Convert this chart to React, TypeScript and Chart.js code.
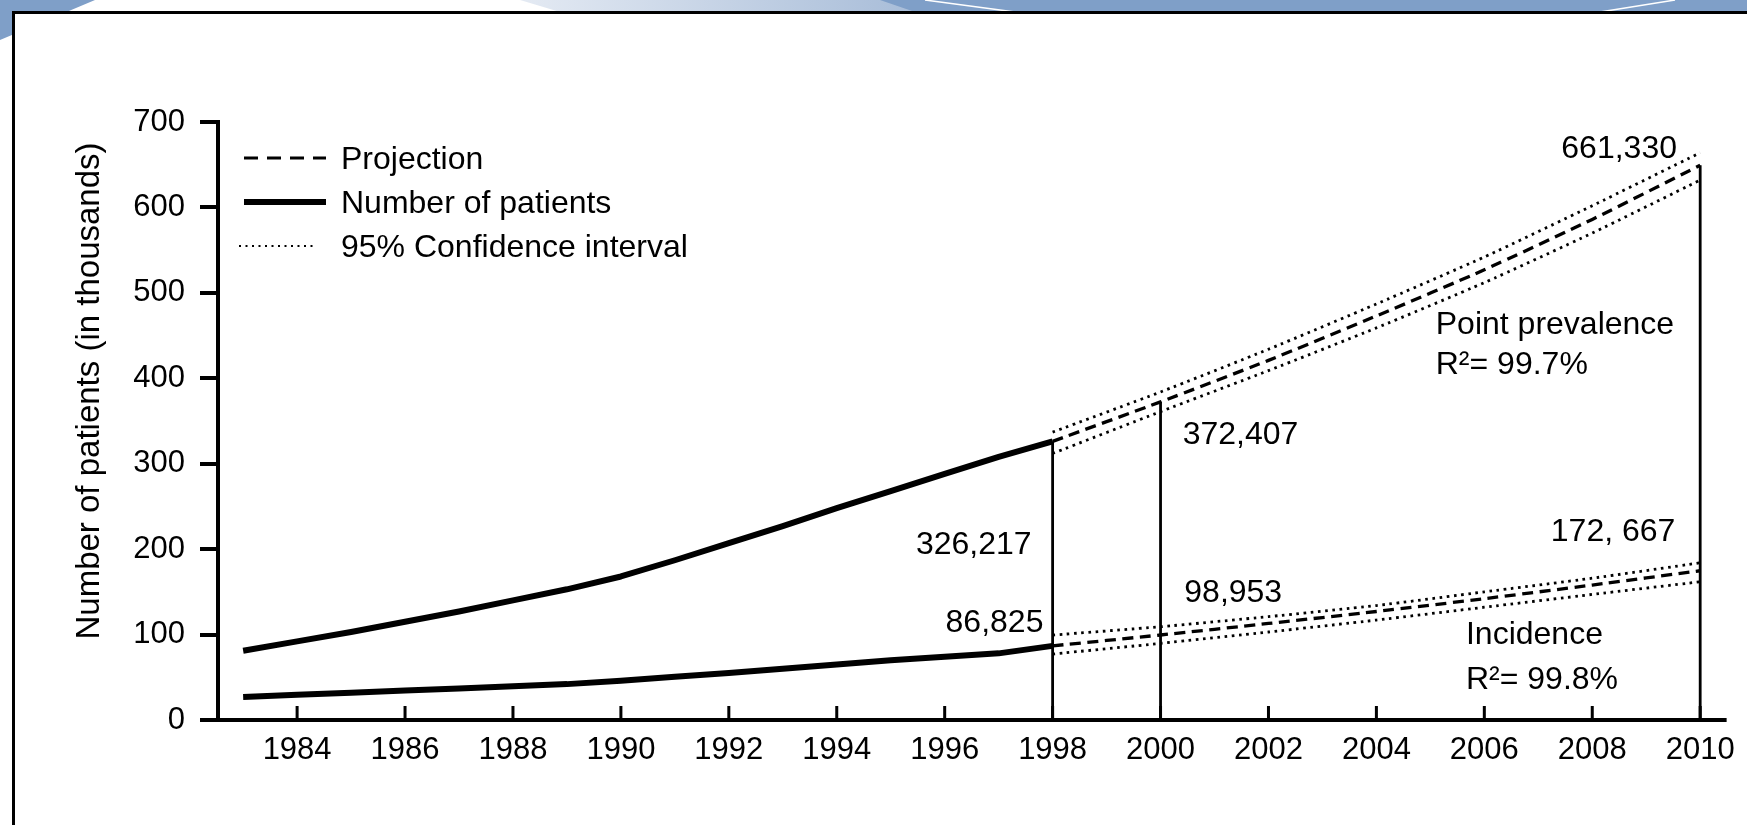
import React, { useEffect, useRef } from "react";
import { Chart, registerables } from "chart.js";

Chart.register(...registerables);

// ---------- data ----------
const YEARS_OBSERVED = [1983, 1984, 1985, 1986, 1987, 1988, 1989, 1990, 1991, 1992, 1993, 1994, 1995, 1996, 1997, 1998];
const PREVALENCE_OBSERVED = [81, 92, 103, 115, 127, 140, 153, 168, 187, 207, 227, 248, 268, 288, 308, 326.2];
const INCIDENCE_OBSERVED = [27, 29.5, 32, 34.5, 37, 39.5, 42, 46, 50.5, 55, 60, 65, 70, 74, 78, 86.8];

const YEARS_PROJECTED = [1998, 2000, 2002, 2004, 2006, 2008, 2010];
const PREVALENCE_PROJECTED = [326.2, 372.4, 421, 473, 527, 586, 649.4];
const PREVALENCE_CI_UPPER = [337, 384, 434, 487, 542, 602, 664];
const PREVALENCE_CI_LOWER = [312, 361, 409, 459, 512, 570, 632];
const INCIDENCE_PROJECTED = [86.8, 99.5, 113, 127, 142, 158, 174.7];
const INCIDENCE_CI_UPPER = [99.4, 109.2, 121, 134, 150, 166, 184];
const INCIDENCE_CI_LOWER = [77.2, 89.7, 103, 117, 132, 147, 161.8];

const MARKER_YEARS = [1998, 2000, 2010];
const MARKER_VALUES = [326.217, 372.407, 649.4];

const X_TICKS = [1984, 1986, 1988, 1990, 1992, 1994, 1996, 1998, 2000, 2002, 2004, 2006, 2008, 2010];
const Y_TICKS = [0, 100, 200, 300, 400, 500, 600, 700];

const Y_TITLE = "Number of patients (in thousands)";
const LEGEND_LABELS = ["Projection", "Number of patients", "95% Confidence interval"];

const ANNOTATION_TEXTS = ["661,330", "Point prevalence", "R²= 99.7%", "372,407", "172, 667", "98,953", "Incidence", "R²= 99.8%", "326,217", "86,825"];
const ANNOTATION_X = [2009.57, 2005.1, 2005.1, 2000.41, 2009.54, 2000.44, 2005.66, 2005.66, 1997.61, 1997.83];
const ANNOTATION_Y = [671.6, 465.1, 418.3, 336.0, 222.9, 151.2, 102.4, 49.7, 207.7, 116.1];
const ANNOTATION_ALIGN = ["right", "left", "left", "left", "right", "left", "left", "left", "right", "right"];

// ---------- styling ----------
const FONT = '"Liberation Sans", Arial, Helvetica, sans-serif';
const TICK_FS = 31;
const FS = 32;
const TITLE_FS = 33;
const BLUE = "#7f9fc8";

const pts = (xs: number[], ys: number[]) => xs.map((x, i) => ({ x, y: ys[i] }));

const solid = (label: string, data: any) => ({
  label,
  data,
  borderColor: "#000",
  borderWidth: 6,
  pointRadius: 0,
  fill: false,
  tension: 0,
  clip: false,
  borderCapStyle: "butt",
  borderJoinStyle: "round",
});
const dashed = (label: string, data: any) => ({
  label,
  data,
  borderColor: "#000",
  borderWidth: 3.3,
  borderDash: [11, 6.5],
  pointRadius: 0,
  fill: false,
  tension: 0.2,
  clip: false,
});
const dotted = (label: string, data: any) => ({
  label,
  data,
  borderColor: "#000",
  borderWidth: 2.8,
  borderDash: [2.6, 4.6],
  pointRadius: 0,
  fill: false,
  tension: 0.2,
  clip: false,
});
const marker = (i: number) => ({
  label: "marker " + MARKER_YEARS[i],
  data: [
    { x: MARKER_YEARS[i], y: 0 },
    { x: MARKER_YEARS[i], y: MARKER_VALUES[i] },
  ],
  borderColor: "#000",
  borderWidth: 2.8,
  pointRadius: 0,
  fill: false,
  clip: false,
});

const decorPlugin = {
  id: "decor",
  beforeDraw(chart: any) {
    const ctx = chart.ctx;
    const W = chart.width;
    const H = chart.height;
    ctx.save();
    ctx.fillStyle = "#fff";
    ctx.fillRect(0, 0, W, H);
    // top band
    const g = ctx.createLinearGradient(520, 0, 920, 0);
    g.addColorStop(0, "#e4eaf3");
    g.addColorStop(1, "#a7bcd8");
    ctx.fillStyle = g;
    ctx.beginPath();
    ctx.moveTo(520, 0);
    ctx.lineTo(W, 0);
    ctx.lineTo(W, 12);
    ctx.lineTo(560, 12);
    ctx.closePath();
    ctx.fill();
    ctx.fillStyle = BLUE;
    ctx.beginPath();
    ctx.moveTo(880, 0);
    ctx.lineTo(W, 0);
    ctx.lineTo(W, 12);
    ctx.lineTo(915, 12);
    ctx.closePath();
    ctx.fill();
    ctx.strokeStyle = "#fff";
    ctx.lineWidth = 1.5;
    ctx.beginPath();
    ctx.moveTo(925, 0);
    ctx.lineTo(1015, 12);
    ctx.moveTo(1675, 0);
    ctx.lineTo(1600, 12);
    ctx.stroke();
    // top-left corner
    ctx.fillStyle = BLUE;
    ctx.beginPath();
    ctx.moveTo(0, 0);
    ctx.lineTo(95, 0);
    ctx.lineTo(0, 40);
    ctx.closePath();
    ctx.fill();
    // interior
    ctx.fillStyle = "#fff";
    ctx.fillRect(15, 14, W - 15, H - 14);
    // frame
    ctx.fillStyle = "#000";
    ctx.fillRect(12, 11, W - 12, 3);
    ctx.fillRect(12, 11, 3, H - 11);
    ctx.restore();
  },
  afterDraw(chart: any) {
    const ctx = chart.ctx;
    const xs = chart.scales.x;
    const ys = chart.scales.y;
    const area = chart.chartArea;
    const y0 = ys.getPixelForValue(0);
    ctx.save();
    // x axis line with inward ticks
    ctx.strokeStyle = "#000";
    ctx.lineWidth = 4;
    ctx.beginPath();
    ctx.moveTo(area.left - 13, y0);
    ctx.lineTo(area.right, y0);
    ctx.stroke();
    ctx.lineWidth = 3;
    ctx.beginPath();
    for (const t of xs.ticks) {
      const px = xs.getPixelForValue(t.value);
      ctx.moveTo(px, y0);
      ctx.lineTo(px, y0 - 14);
    }
    ctx.stroke();

    // annotations
    ctx.fillStyle = "#000";
    ctx.font = `${FS}px ${FONT}`;
    ctx.textBaseline = "alphabetic";
    ANNOTATION_TEXTS.forEach((txt, i) => {
      ctx.textAlign = ANNOTATION_ALIGN[i];
      const px = xs.getPixelForValue(ANNOTATION_X[i]);
      const py = ys.getPixelForValue(ANNOTATION_Y[i]) + 0.358 * FS;
      ctx.fillText(txt, px, py);
    });

    // legend
    const lx = area.left + 26;
    const rows = [area.top + 36, area.top + 80, area.top + 124];
    ctx.strokeStyle = "#000";
    ctx.lineWidth = 3;
    ctx.setLineDash([14, 9]);
    ctx.beginPath();
    ctx.moveTo(lx, rows[0]);
    ctx.lineTo(lx + 82, rows[0]);
    ctx.stroke();
    ctx.setLineDash([]);
    ctx.lineWidth = 6;
    ctx.beginPath();
    ctx.moveTo(lx, rows[1]);
    ctx.lineTo(lx + 82, rows[1]);
    ctx.stroke();
    ctx.lineWidth = 2;
    ctx.setLineDash([2, 4.5]);
    ctx.beginPath();
    ctx.moveTo(lx - 5, rows[2]);
    ctx.lineTo(lx + 72, rows[2]);
    ctx.stroke();
    ctx.setLineDash([]);
    ctx.textAlign = "left";
    LEGEND_LABELS.forEach((lab, i) => {
      ctx.fillText(lab, lx + 97, rows[i] + 0.358 * FS);
    });

    // y title
    ctx.translate(99, 391);
    ctx.rotate(-Math.PI / 2);
    ctx.font = `${TITLE_FS}px ${FONT}`;
    ctx.textAlign = "center";
    ctx.textBaseline = "alphabetic";
    ctx.fillText(Y_TITLE, 0, 0);
    ctx.restore();
  },
};

export default function App() {
  const ref = useRef<HTMLCanvasElement | null>(null);
  useEffect(() => {
    if (!ref.current) return;
    const chart = new Chart(ref.current, {
      type: "line",
      data: {
        datasets: [
          marker(0),
          marker(1),
          marker(2),
          dotted("Prevalence CI upper", pts(YEARS_PROJECTED, PREVALENCE_CI_UPPER)),
          dotted("Prevalence CI lower", pts(YEARS_PROJECTED, PREVALENCE_CI_LOWER)),
          dotted("Incidence CI upper", pts(YEARS_PROJECTED, INCIDENCE_CI_UPPER)),
          dotted("Incidence CI lower", pts(YEARS_PROJECTED, INCIDENCE_CI_LOWER)),
          dashed("Prevalence projection", pts(YEARS_PROJECTED, PREVALENCE_PROJECTED)),
          dashed("Incidence projection", pts(YEARS_PROJECTED, INCIDENCE_PROJECTED)),
          solid("Point prevalence", pts(YEARS_OBSERVED, PREVALENCE_OBSERVED)),
          solid("Incidence", pts(YEARS_OBSERVED, INCIDENCE_OBSERVED)),
        ] as any,
      },
      options: {
        animation: false,
        responsive: false,
        devicePixelRatio: 1,
        layout: { padding: { left: 0, top: 122, right: 19, bottom: 0 } },
        plugins: { legend: { display: false }, tooltip: { enabled: false } },
        scales: {
          x: {
            type: "linear",
            min: 1982.534,
            max: 2010.49,
            grid: { display: false, drawTicks: false },
            border: { display: false },
            afterBuildTicks: (s: any) => {
              s.ticks = X_TICKS.map((v) => ({ value: v }));
            },
            afterFit: (s: any) => {
              s.height = 105;
            },
            ticks: {
              autoSkip: false,
              maxRotation: 0,
              padding: 12,
              color: "#000",
              font: { family: FONT, size: TICK_FS },
              callback: (v: any) => String(v),
            },
          },
          y: {
            min: 0,
            max: 700,
            grid: {
              display: true,
              drawOnChartArea: false,
              drawTicks: true,
              tickLength: 18,
              lineWidth: 4,
              color: "#000",
              tickColor: "#000",
            },
            border: { display: true, color: "#000", width: 4 },
            afterBuildTicks: (s: any) => {
              s.ticks = Y_TICKS.map((v) => ({ value: v }));
            },
            afterFit: (s: any) => {
              s.width = 218;
            },
            ticks: {
              padding: 15,
              color: "#000",
              font: { family: FONT, size: TICK_FS },
              callback: (v: any) => String(v),
            },
          },
        },
      } as any,
      plugins: [decorPlugin],
    });
    return () => chart.destroy();
  }, []);
  return (
    <canvas
      ref={ref}
      width={1747}
      height={825}
      style={{ position: "fixed", left: 0, top: 0, width: 1747, height: 825 }}
    />
  );
}
